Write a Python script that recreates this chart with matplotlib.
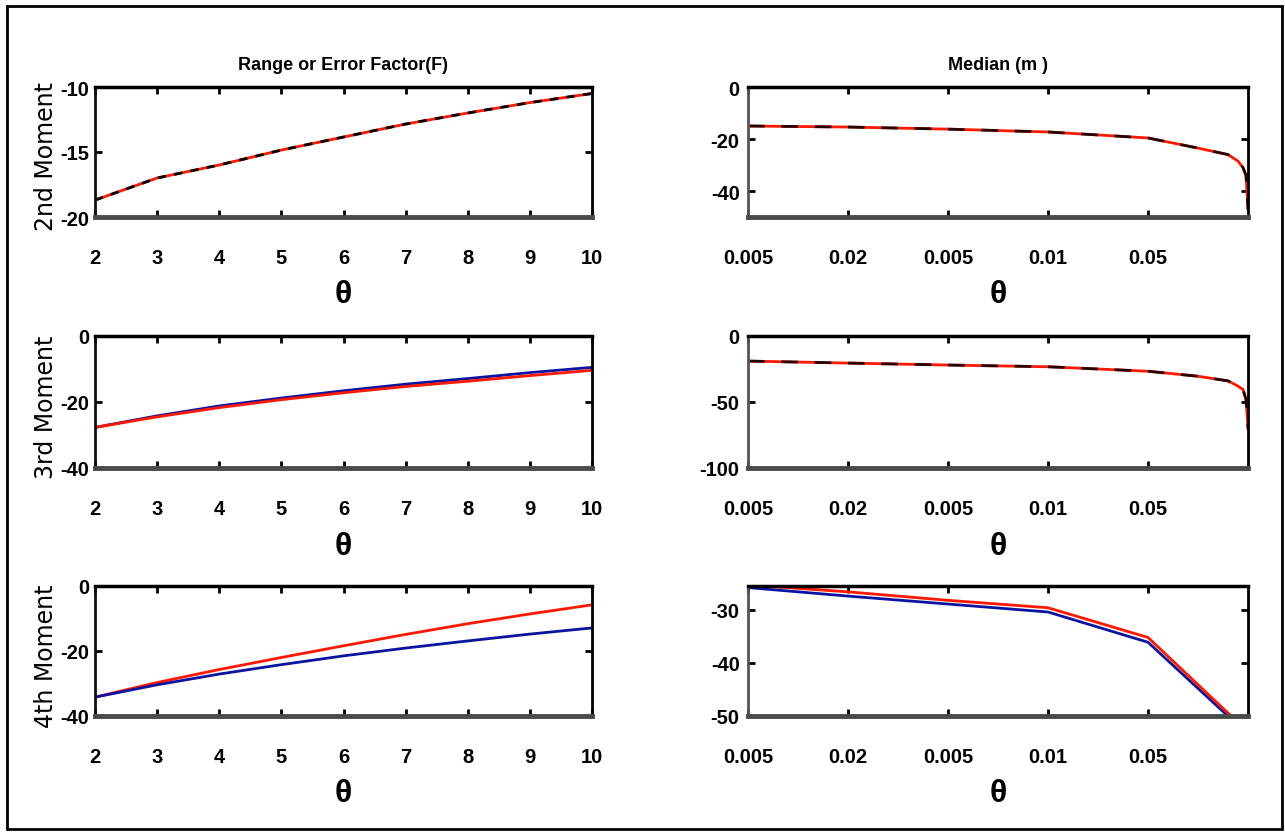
import matplotlib
matplotlib.use("Agg")
import matplotlib.pyplot as plt
from matplotlib.patches import Rectangle

# ---------------- data ----------------
F = [2, 3, 4, 5, 6, 7, 8, 9, 10]
mom2 = [-18.7, -17.0, -16.0, -14.85, -13.85, -12.85, -12.0, -11.2, -10.5]
mom3_blue = [-27.7, -24.2, -21.2, -18.8, -16.6, -14.6, -12.9, -11.1, -9.5]
mom3_red = [-27.7, -24.5, -21.7, -19.3, -17.2, -15.3, -13.7, -12.0, -10.4]
mom4_red = [-34.2, -29.7, -25.7, -22.0, -18.4, -14.9, -11.6, -8.6, -5.8]
mom4_blue = [-34.2, -30.4, -27.1, -24.2, -21.5, -19.1, -16.9, -14.8, -12.9]

m_idx = [0, 1, 2, 3, 4, 4.5, 4.8, 4.9, 4.95, 4.98, 5.0]
med2 = [-15.0, -15.4, -16.2, -17.3, -19.6, -23.5, -26.0, -28.5, -31.0, -34.0, -47.0]
med3 = [-19.0, -20.5, -22.0, -23.3, -26.7, -30.5, -34.0, -38.0, -40.5, -48.0, -70.0]
m_idx4 = [0, 1, 2, 3, 4, 5]
med4_red = [-25.3, -26.6, -28.2, -29.6, -35.2, -53.0]
med4_blue = [-25.8, -27.4, -28.9, -30.4, -36.1, -53.5]

m_ticklabels = ['0.005', '0.02', '0.005', '0.01', '0.05']
row_labels = ['2nd Moment', '3rd Moment', '4th Moment']
titles = ['Range or Error Factor(F)', 'Median (m )']

# ---------------- style ----------------
plt.rcParams['axes.unicode_minus'] = False
TF = ['Liberation Sans', 'DejaVu Sans']

W, H = 1285, 837
fig = plt.figure(figsize=(W / 100, H / 100), dpi=100)

RED = '#ff1800'
BLUE = '#0a14a0'


def box(px_left, px_top, px_right, px_bottom):
    return [px_left / W, 1 - px_bottom / H, (px_right - px_left) / W, (px_bottom - px_top) / H]


rows = [(88, 218), (337, 469), (587, 717)]
cols = [(95, 592), (748, 1248)]

axes = {}
for r, (t, b) in enumerate(rows):
    for c, (l, rr) in enumerate(cols):
        axes[(r, c)] = fig.add_axes(box(l, t, rr, b))


def style(ax, left_col):
    ax.tick_params(direction='in', top=True, right=True, length=5, width=2,
                   labelsize=14.5, pad=4)
    ax.tick_params(axis='x', pad=22)
    for lab in ax.get_xticklabels() + ax.get_yticklabels():
        lab.set_family(TF)
        lab.set_fontweight('bold')
    ax.spines['top'].set_linewidth(2.5)
    ax.spines['bottom'].set_linewidth(3.5)
    ax.spines['bottom'].set_color('#4a4a4a')
    ax.spines['left'].set_linewidth(2)
    ax.spines['left'].set_color('#111111' if left_col else '#555555')
    ax.spines['right'].set_linewidth(2)
    ax.set_xlabel('θ', family=TF, fontweight='bold', fontsize=23, va='top')
    ax.xaxis.set_label_coords(0.5, -0.48)


# left column
ax = axes[(0, 0)]
ax.plot(F, mom2, color=RED, lw=2)
ax.plot(F, mom2, color='black', lw=2, ls=(0, (3, 3)))
ax.set_ylim(-20, -10)
ax.set_yticks([-20, -15, -10])

ax = axes[(1, 0)]
ax.plot(F, mom3_blue, color=BLUE, lw=2)
ax.plot(F, mom3_red, color=RED, lw=2)
ax.set_ylim(-40, 0)
ax.set_yticks([-40, -20, 0])

ax = axes[(2, 0)]
ax.plot(F, mom4_red, color=RED, lw=2)
ax.plot(F, mom4_blue, color=BLUE, lw=2)
ax.set_ylim(-40, 0)
ax.set_yticks([-40, -20, 0])

for r in range(3):
    ax = axes[(r, 0)]
    ax.set_xlim(2, 10)
    ax.set_xticks(F)
    ax.set_xticklabels([str(v) for v in F])
    style(ax, True)
    ax.set_ylabel(row_labels[r], fontsize=17, family='DejaVu Sans', va='bottom')
    ax.yaxis.set_label_coords(-0.074, 0.47)

# right column
ax = axes[(0, 1)]
ax.plot(m_idx, med2, color=RED, lw=2)
ax.plot(m_idx, med2, color='black', lw=2, ls=(0, (6, 6)), alpha=0.85)
ax.set_ylim(-50, 0)
ax.set_yticks([-40, -20, 0])

ax = axes[(1, 1)]
ax.plot(m_idx, med3, color=RED, lw=2)
ax.plot(m_idx, med3, color='black', lw=2, ls=(0, (6, 6)), alpha=0.85)
ax.set_ylim(-100, 0)
ax.set_yticks([-100, -50, 0])

ax = axes[(2, 1)]
ax.plot(m_idx4, med4_blue, color=BLUE, lw=2)
ax.plot(m_idx4, med4_red, color=RED, lw=2)
ax.set_ylim(-50, -25.5)
ax.set_yticks([-50, -40, -30])

for r in range(3):
    ax = axes[(r, 1)]
    ax.set_xlim(0, 5)
    ax.set_xticks(range(len(m_ticklabels)))
    ax.set_xticklabels(m_ticklabels)
    style(ax, False)
    ax.tick_params(axis='y', pad=6)

axes[(0, 0)].set_title(titles[0], family=TF, fontweight='bold', fontsize=13, pad=13)
axes[(0, 1)].set_title(titles[1], family=TF, fontweight='bold', fontsize=13, pad=13)

# outer frame
fig.patches.append(Rectangle((7 / W, 1 - 830 / H), (1282 - 7) / W, (830 - 7) / H,
                             transform=fig.transFigure, fill=False,
                             edgecolor='black', lw=2))

fig.savefig('out.png', dpi=100)
